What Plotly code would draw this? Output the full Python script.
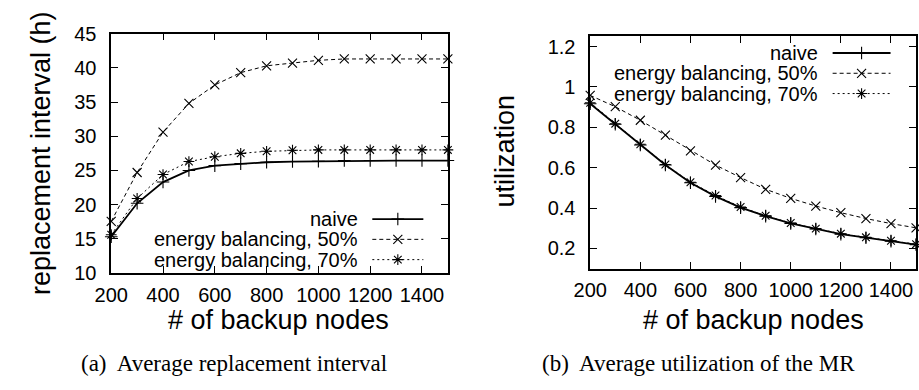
import plotly.graph_objects as go

# ---------------- data ----------------
nodes = [200, 300, 400, 500, 600, 700, 800, 900, 1000, 1100, 1200, 1300, 1400, 1500]
x_ticks = [200, 400, 600, 800, 1000, 1200, 1400]

interval_naive = [15.3, 20.2, 23.3, 25.0, 25.7, 26.0, 26.2, 26.3, 26.35, 26.45, 26.45, 26.45, 26.45, 26.45]
interval_eb50 = [17.55, 24.7, 30.6, 34.8, 37.5, 39.3, 40.3, 40.7, 41.1, 41.3, 41.3, 41.3, 41.3, 41.3]
interval_eb70 = [15.6, 20.9, 24.4, 26.3, 27.0, 27.5, 27.8, 27.95, 28.0, 28.0, 28.0, 28.0, 28.0, 28.0]

util_naive = [0.917, 0.815, 0.712, 0.613, 0.525, 0.458, 0.402, 0.360, 0.324, 0.296, 0.271, 0.253, 0.236, 0.219]
util_eb50 = [0.958, 0.902, 0.835, 0.761, 0.683, 0.613, 0.551, 0.493, 0.448, 0.410, 0.377, 0.348, 0.323, 0.302]
util_eb70 = [0.922, 0.818, 0.716, 0.616, 0.528, 0.462, 0.405, 0.362, 0.326, 0.298, 0.273, 0.255, 0.238, 0.221]

interval_ticks = [10, 15, 20, 25, 30, 35, 40, 45]
util_ticks = [0.2, 0.4, 0.6, 0.8, 1.0, 1.2]
util_tick_labels = ["0.2", "0.4", "0.6", "0.8", "1", "1.2"]

series_names = ["naive", "energy balancing, 50%", "energy balancing, 70%"]

# ---------------- styles ----------------
W, H = 919, 390
SANS = "Liberation Sans, Arial, Helvetica, sans-serif"
SERIF = "Liberation Serif, Times New Roman, serif"
styles = [
    dict(dash="solid", width=1.8, symbol="cross-thin-open"),
    dict(dash="4px,3px", width=1.0, symbol="x-thin-open"),
    dict(dash="2px,3px", width=1.0, symbol="asterisk-open"),
]

fig = go.Figure()


def add_series(xs, ys, st, xa, ya):
    fig.add_trace(go.Scatter(
        x=xs, y=ys, mode="lines+markers", xaxis=xa, yaxis=ya,
        line=dict(color="black", width=st["width"], dash=st["dash"]),
        marker=dict(symbol=st["symbol"], size=9, color="black",
                    line=dict(color="black", width=1.1)),
        showlegend=False, cliponaxis=False))


for ys, st in zip([interval_naive, interval_eb50, interval_eb70], styles):
    add_series(nodes, ys, st, "x", "y")
for ys, st in zip([util_naive, util_eb50, util_eb70], styles):
    add_series(nodes, ys, st, "x2", "y2")

# ---------------- manual legends (gnuplot style: text right-aligned, key on the right) ----------------
legends = [
    dict(text_right=348, x0=362, x1=414, rows=[220.5, 242, 263.5]),
    dict(text_right=817, x0=831, x1=890, rows=[44.5, 66, 87.5]),
]
annotations = []
for lg in legends:
    for name, st, yy in zip(series_names, styles, lg["rows"]):
        xm = (lg["x0"] + lg["x1"]) / 2
        fig.add_trace(go.Scatter(
            x=[lg["x0"], xm, lg["x1"]], y=[yy, yy, yy], mode="lines", xaxis="x3", yaxis="y3",
            line=dict(color="black", width=st["width"], dash=st["dash"]),
            showlegend=False, hoverinfo="skip"))
        fig.add_trace(go.Scatter(
            x=[xm], y=[yy], mode="markers", xaxis="x3", yaxis="y3",
            marker=dict(symbol=st["symbol"], size=9, color="black",
                        line=dict(color="black", width=1.1)),
            showlegend=False, hoverinfo="skip"))
        annotations.append(dict(
            x=lg["text_right"] / W, y=1 - yy / H, xref="paper", yref="paper",
            text=name, showarrow=False, xanchor="right", yanchor="middle", borderpad=0,
            font=dict(family=SANS, size=20, color="black")))


# axis titles & captions
def ann(text, cx, cy, size, family=SANS, angle=0, pad=1):
    annotations.append(dict(
        x=cx / W, y=1 - cy / H, xref="paper", yref="paper", text=text,
        showarrow=False, xanchor="center", yanchor="middle", textangle=angle,
        borderpad=pad, font=dict(family=family, size=size, color="black")))


ann("replacement interval (h)", 25, 151, 27, angle=-90)
ann("utilization", 497, 148, 27, angle=-90)
ann("# of backup nodes", 266, 328, 27, pad=0)
ann("# of backup nodes", 750, 328, 27, pad=0)
ann("(a)  Average replacement interval", 221, 374, 23, family=SERIF, pad=0)
ann("(b)  Average utilization of the MR", 694, 374, 23, family=SERIF, pad=0)

common = dict(
    showline=True, linecolor="black", linewidth=1.5, mirror="allticks",
    ticks="inside", ticklen=7, tickwidth=1, tickcolor="black",
    showgrid=False, zeroline=False,
    tickfont=dict(family=SANS, size=20, color="black"),
)

fig.update_layout(
    width=W, height=H,
    margin=dict(l=0, r=0, t=0, b=0),
    paper_bgcolor="white", plot_bgcolor="rgba(0,0,0,0)",
    showlegend=False,
    xaxis=dict(domain=[96 / W, 439 / W], anchor="y", range=[200, 1500],
               tickvals=x_ticks, ticklabelstandoff=3, **common),
    yaxis=dict(domain=[1 - 277.7 / H, 1 - 24 / H], anchor="x", range=[10, 45],
               tickvals=interval_ticks, ticklabelstandoff=9, **common),
    xaxis2=dict(domain=[584 / W, 916 / W], anchor="y2", range=[200, 1500],
                tickvals=x_ticks, ticklabelstandoff=3, **common),
    yaxis2=dict(domain=[1 - 273 / H, 1 - 27 / H], anchor="x2", range=[0.1, 1.25],
                tickvals=util_ticks, ticktext=util_tick_labels, ticklabelstandoff=9, **common),
    xaxis3=dict(domain=[0, 1], anchor="y3", range=[0, W], visible=False, fixedrange=True),
    yaxis3=dict(domain=[0, 1], anchor="x3", range=[H, 0], visible=False, fixedrange=True),
    annotations=annotations,
)

fig.write_html("out.html")
